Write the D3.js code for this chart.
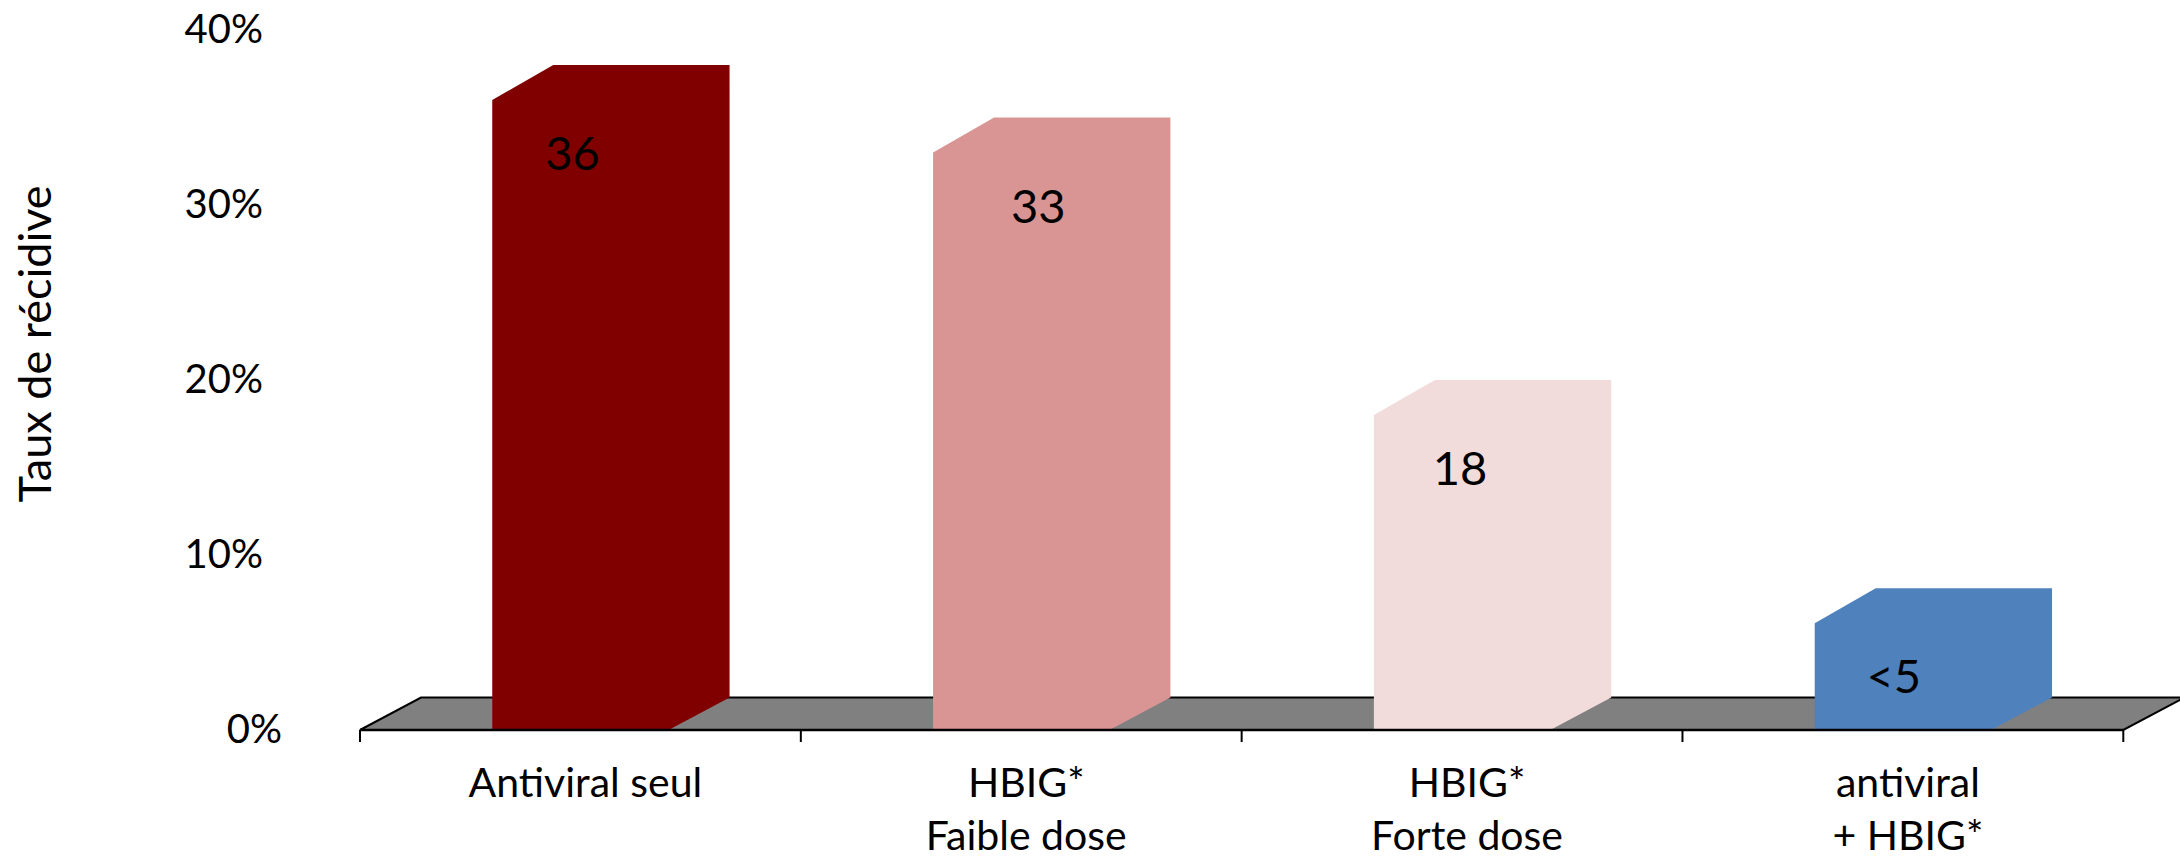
<!DOCTYPE html>
<html>
<head>
<meta charset="utf-8">
<script src="https://cdn.jsdelivr.net/npm/d3@7/dist/d3.min.js"></script>
<style>
  html, body { margin: 0; padding: 0; background: #ffffff; }
  svg { display: block; }
  text { font-family: Lato, "Open Sans", sans-serif; fill: #000; }
</style>
</head>
<body>
<svg id="chart" width="2180" height="859"></svg>
<script>
// Recurrence rate by prophylaxis strategy
const categories = ["Antiviral seul", "HBIG* Faible dose", "HBIG* Forte dose", "antiviral + HBIG*"];
const categoryLines = [["Antiviral seul"], ["HBIG*", "Faible dose"], ["HBIG*", "Forte dose"], ["antiviral", "+ HBIG*"]];
const values = [36, 33, 18, 6.1];
const valueLabels = ["36", "33", "18", "<5"];
const barColors = ["#800000", "#D99594", "#F2DCDB", "#4F81BD"];
const yTicks = [0, 10, 20, 30, 40];
const yTickLabels = ["0%", "10%", "20%", "30%", "40%"];
const yTitle = "Taux de récidive";

// layout
const W = 2180, H = 859;
const floorLeft = 360, floorRight = 2123.3;
const yBase = 730, yTop = 30;
const depthX = 61, depthTopY = -35, depthFloorY = -32.5;
const valueLabelShift = [-8, 17, -2, -9];

const svg = d3.select("#chart");

const x = d3.scaleBand()
  .domain(categories)
  .range([floorLeft, floorRight])
  .paddingInner(0.6)
  .paddingOuter(0.3);

const y = d3.scaleLinear().domain([0, 40]).range([yBase, yTop]);

// floor slab
const floorPts = [
  [floorLeft, yBase],
  [floorLeft + depthX, yBase + depthFloorY],
  [floorRight + depthX, yBase + depthFloorY],
  [floorRight, yBase]
];
svg.append("polygon")
  .attr("points", floorPts.map(p => p.join(",")).join(" "))
  .attr("fill", "#808080")
  .attr("stroke", "#000")
  .attr("stroke-width", 2)
  .attr("stroke-linejoin", "miter");

// bars: front face, top and side share one colour
const bars = svg.append("g");
categories.forEach((c, i) => {
  const xl = x(c), xr = x(c) + x.bandwidth();
  const yv = y(values[i]), y0 = y(0);
  const pts = [
    [xl, y0],
    [xl, yv],
    [xl + depthX, yv + depthTopY],
    [xr + depthX, yv + depthTopY],
    [xr + depthX, y0 + depthFloorY],
    [xr, y0]
  ];
  bars.append("polygon")
    .attr("points", pts.map(p => p.join(",")).join(" "))
    .attr("fill", barColors[i]);
});

// front edge of the floor and category ticks
const step = x.step();
svg.append("line")
  .attr("x1", floorLeft).attr("x2", floorRight)
  .attr("y1", yBase).attr("y2", yBase)
  .attr("stroke", "#000").attr("stroke-width", 2.5);
d3.range(categories.length + 1).forEach(i => {
  const tx = floorLeft + i * step;
  svg.append("line")
    .attr("x1", tx).attr("x2", tx)
    .attr("y1", yBase).attr("y2", yBase + 12)
    .attr("stroke", "#000").attr("stroke-width", 2);
});

// value axis labels
svg.append("g").selectAll("text")
  .data(yTicks)
  .join("text")
  .attr("x", d => d === 0 ? 282 : 263)
  .attr("y", d => y(d) - 2)
  .attr("text-anchor", "end")
  .attr("dominant-baseline", "central")
  .attr("font-size", 40)
  .text((d, i) => yTickLabels[i]);

// axis title
svg.append("text")
  .attr("transform", `translate(34,344) rotate(-90)`)
  .attr("text-anchor", "middle")
  .attr("dominant-baseline", "central")
  .attr("font-size", 45)
  .text(yTitle);

// value labels inside the bars
svg.append("g").selectAll("text")
  .data(categories)
  .join("text")
  .attr("x", (c, i) => x(c) + x.bandwidth() / 2 + valueLabelShift[i])
  .attr("y", (c, i) => y(values[i]) + 52)
  .attr("text-anchor", "middle")
  .attr("dominant-baseline", "central")
  .attr("font-size", 47)
  .text((c, i) => valueLabels[i]);

// category labels
const catG = svg.append("g");
categories.forEach((c, i) => {
  const t = catG.append("text")
    .attr("x", x(c) + x.bandwidth() / 2 + 5)
    .attr("y", 797)
    .attr("text-anchor", "middle")
    .attr("font-size", 41);
  categoryLines[i].forEach((line, j) => {
    t.append("tspan")
      .attr("x", x(c) + x.bandwidth() / 2 + 5)
      .attr("dy", j === 0 ? 0 : 53)
      .text(line);
  });
});
</script>
</body>
</html>
